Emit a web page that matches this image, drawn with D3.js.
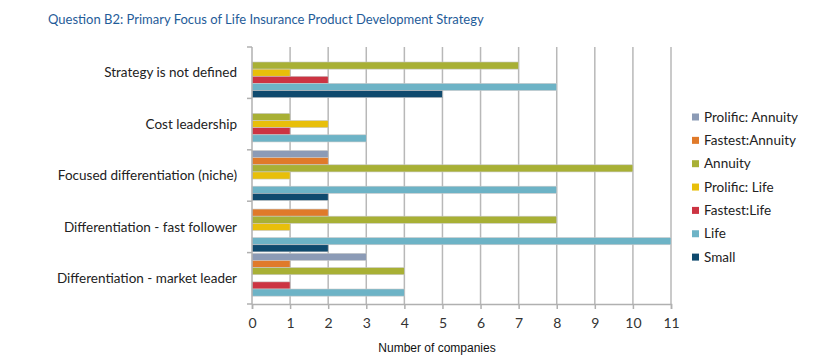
<!DOCTYPE html>
<html><head><meta charset="utf-8">
<script src="https://cdn.jsdelivr.net/npm/d3@7"></script>
<style>body{margin:0;background:#fff}svg{display:block}</style>
</head><body>
<svg id="chart" width="818" height="364"></svg>
<script>
const categories = ["Strategy is not defined","Cost leadership","Focused differentiation (niche)","Differentiation - fast follower","Differentiation - market leader"];
const seriesNames = ["Prolific: Annuity","Fastest:Annuity","Annuity","Prolific: Life","Fastest:Life","Life","Small"];
const seriesColors = ["#8c9bb6","#e07a2a","#a8b035","#e8bf0a","#cc3442","#6db3c6","#0f4a6e"];
const prolificAnnuity = [0,0,2,0,3];
const fastestAnnuity = [0,0,2,2,1];
const annuity = [7,1,10,8,4];
const prolificLife = [1,2,1,1,0];
const fastestLife = [2,1,0,0,1];
const life = [8,3,8,11,4];
const small = [5,0,2,2,0];
const seriesValues = [prolificAnnuity,fastestAnnuity,annuity,prolificLife,fastestLife,life,small];
const xTicks = [0,1,2,3,4,5,6,7,8,9,10,11];
const title = "Question B2: Primary Focus of Life Insurance Product Development Strategy";
const xTitle = "Number of companies";

const svg = d3.select("#chart");
const m = {left:252, right:671, top:47, bottom:304};
const x = d3.scaleLinear().domain([0,11]).range([m.left,m.right]);
const y = d3.scaleBand().domain(categories).range([m.top,m.bottom]).paddingInner(0).paddingOuter(0);
const ys = d3.scaleBand().domain(seriesNames).range([0,y.bandwidth()]).paddingOuter(0.1).paddingInner(0);

// title
svg.append("text").attr("x",48).attr("y",24).attr("font-family","Lato, 'Open Sans', sans-serif")
  .attr("font-size",13).attr("fill","#1f5c99").text(title);

// gridlines
svg.append("g").selectAll("line").data(xTicks.slice(1)).join("line")
  .attr("x1",d=>x(d)).attr("x2",d=>x(d)).attr("y1",m.top).attr("y2",m.bottom)
  .attr("stroke","#b8b8b8").attr("stroke-width",1.5);

// bars
const g = svg.append("g");
seriesNames.forEach((s,si)=>{
  g.append("g").selectAll("rect").data(categories).join("rect")
    .attr("x",x(0)).attr("y",(c,ci)=>y(c)+ys(s))
    .attr("width",(c,ci)=>x(seriesValues[si][ci])-x(0))
    .attr("height",ys.bandwidth())
    .attr("fill",seriesColors[si])
    .attr("stroke",(c,ci)=>seriesValues[si][ci]>0?"#c8c8c8":"none").attr("stroke-width",0.6);
});

// x axis
const xa = svg.append("g").attr("transform",`translate(0,${m.bottom})`)
  .call(d3.axisBottom(x).tickValues(xTicks).tickSize(5).tickPadding(9).tickFormat(d3.format("d")));
xa.select(".domain").attr("stroke","#b0b0b0").attr("stroke-width",1.5);
xa.selectAll(".tick line").attr("stroke","#b0b0b0").attr("stroke-width",1.5);
xa.selectAll("text").attr("font-family","Lato, 'Open Sans', sans-serif").attr("font-size",14).attr("fill","#333");

// y axis
const ya = svg.append("g").attr("transform",`translate(${m.left},0)`);
ya.append("line").attr("x1",0).attr("x2",0).attr("y1",m.top).attr("y2",m.bottom).attr("stroke","#b0b0b0").attr("stroke-width",1.5);
ya.selectAll("line.t").data(d3.range(categories.length+1)).join("line").attr("class","t")
  .attr("x1",-5).attr("x2",0).attr("y1",i=>m.top+i*y.bandwidth()).attr("y2",i=>m.top+i*y.bandwidth())
  .attr("stroke","#b0b0b0").attr("stroke-width",1.5);
ya.selectAll("text").data(categories).join("text")
  .attr("x",-15).attr("y",c=>y(c)+y.bandwidth()/2).attr("dy","0.35em")
  .attr("text-anchor","end").attr("font-family","Lato, 'Open Sans', sans-serif").attr("font-size",13.5).attr("fill","#222")
  .text(c=>c);

// x title
svg.append("text").attr("x",437).attr("y",352).attr("text-anchor","middle")
  .attr("font-family","'Liberation Sans', Arial, sans-serif").attr("font-size",12).attr("fill","#111").text(xTitle);

// legend
const lg = svg.append("g").attr("transform","translate(692,117)");
const items = lg.selectAll("g").data(seriesNames).join("g").attr("transform",(d,i)=>`translate(0,${i*23.35})`);
items.append("rect").attr("x",0).attr("y",-3.5).attr("width",7).attr("height",7).attr("fill",(d,i)=>seriesColors[i]);
items.append("text").attr("x",12).attr("y",0).attr("dy","0.35em").attr("font-family","Lato, 'Open Sans', sans-serif")
  .attr("font-size",13.5).attr("fill","#222").text(d=>d);
</script>
</body></html>
